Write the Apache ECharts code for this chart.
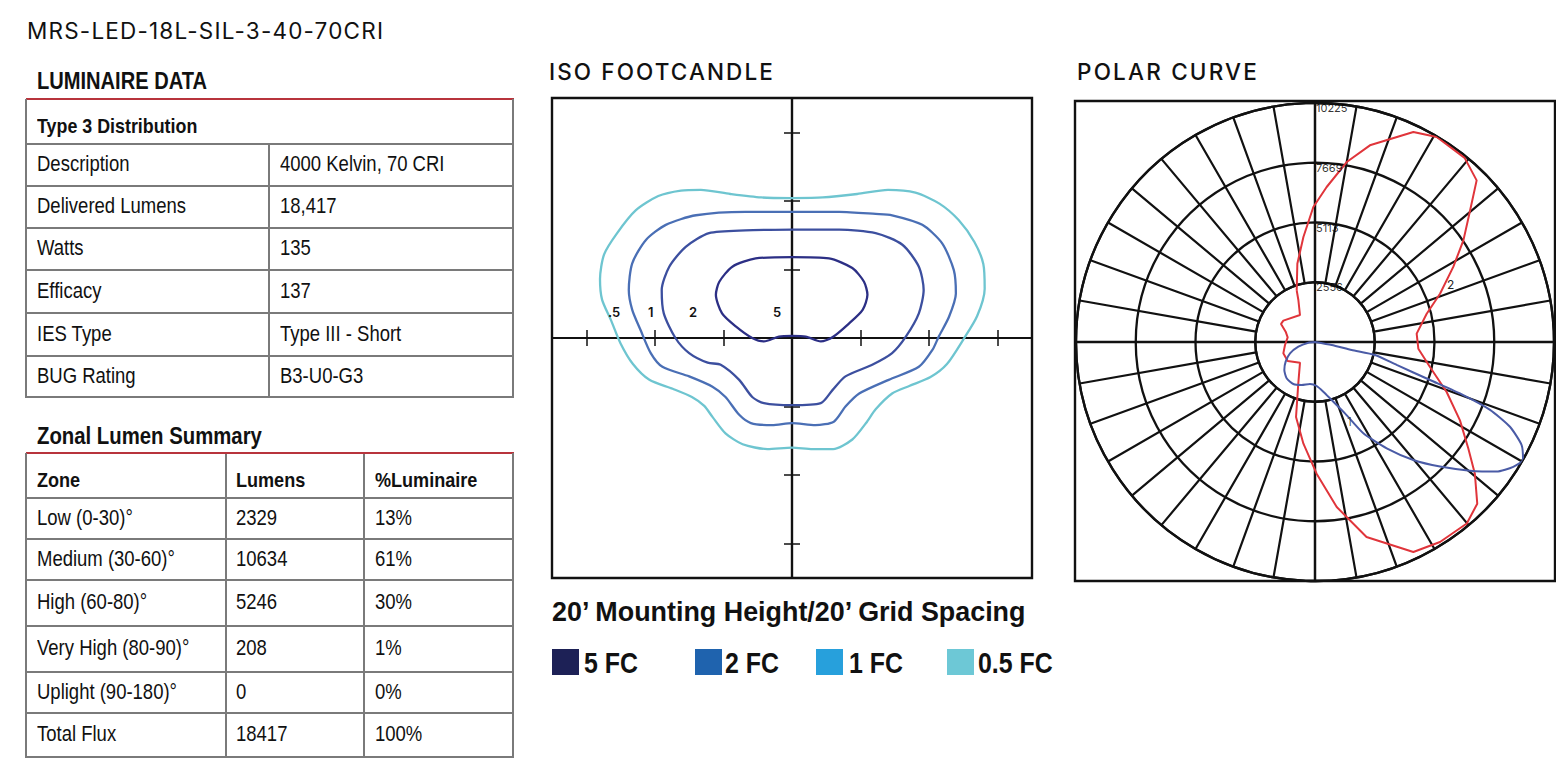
<!DOCTYPE html>
<html><head><meta charset="utf-8">
<script src="https://cdn.jsdelivr.net/npm/echarts@6/dist/echarts.min.js"></script>
<style>
html,body{margin:0;padding:0;background:#fff;}
#page{position:relative;width:1556px;height:761px;overflow:hidden;background:#fff;}
#chart{position:absolute;left:0;top:0;width:1556px;height:761px;}
#overlay{position:absolute;left:0;top:0;width:1556px;height:761px;pointer-events:none;}
.t{position:absolute;white-space:nowrap;line-height:1;color:#111;}
.cond{font-family:"Liberation Sans",Arial,Helvetica,sans-serif;}
.geo{font-family:"Inter","Noto Sans",sans-serif;}
.cell{position:absolute;box-sizing:border-box;display:flex;align-items:center;line-height:1;white-space:nowrap;color:#111;}
.ln{position:absolute;background:#7a7a7a;}
.red{position:absolute;background:#b8343c;}
.sq{position:absolute;}
</style></head>
<body><div id="page"><div id="chart"></div><div id="overlay"></div></div>
<script>
// ---------------- data ----------------
const pageTitle = 'MRS-LED-18L-SIL-3-40-70CRI';
const luminaireHeading = 'LUMINAIRE DATA';
const distributionLabel = 'Type 3 Distribution';
const luminaireFields = ['Description', 'Delivered Lumens', 'Watts', 'Efficacy', 'IES Type', 'BUG Rating'];
const luminaireValues = ['4000 Kelvin, 70 CRI', '18,417', '135', '137', 'Type III - Short', 'B3-U0-G3'];
const zonalHeading = 'Zonal Lumen Summary';
const zonalColumns = ['Zone', 'Lumens', '%Luminaire'];
const zonalZones = ['Low (0-30)°', 'Medium (30-60)°', 'High (60-80)°', 'Very High (80-90)°', 'Uplight (90-180)°', 'Total Flux'];
const zonalLumens = ['2329', '10634', '5246', '208', '0', '18417'];
const zonalPercent = ['13%', '61%', '30%', '1%', '0%', '100%'];

const isoTitle = 'ISO FOOTCANDLE';
const polarTitle = 'POLAR CURVE';
const mountingText = '20\u2019 Mounting Height/20\u2019 Grid Spacing';
const isoLevels = ['5 FC', '2 FC', '1 FC', '0.5 FC'];
const isoLevelTags = ['5', '2', '1', '.5'];
const isoTickValues = [-3, -2, -1, 1, 2, 3];

// iso-footcandle contours, [x, y] in mounting heights
const iso5 = [[0,1.18],[0.54,1.16],[0.88,1.02],[1.05,0.82],[1.10,0.63],[1.03,0.41],[0.83,0.21],[0.59,0.01],[0.42,-0.05],[0.20,0.02],[0,0.03],[-0.19,0.02],[-0.41,-0.05],[-0.58,0.0],[-0.82,0.17],[-1.02,0.36],[-1.11,0.63],[-1.06,0.82],[-0.87,1.04],[-0.53,1.16],[0,1.18]];
const iso2 = [[0,1.58],[0.69,1.58],[1.22,1.53],[1.61,1.36],[1.85,1.04],[1.92,0.70],[1.85,0.36],[1.66,0.02],[1.46,-0.22],[1.17,-0.39],[0.78,-0.56],[0.59,-0.76],[0.42,-0.95],[0,-0.98],[-0.41,-0.95],[-0.58,-0.86],[-0.77,-0.61],[-1.04,-0.39],[-1.23,-0.36],[-1.50,-0.22],[-1.70,0.0],[-1.87,0.36],[-1.90,0.70],[-1.79,1.04],[-1.55,1.33],[-1.21,1.53],[-0.68,1.57],[0,1.58]];
const iso1 = [[0,1.84],[0.69,1.84],[1.22,1.81],[1.46,1.79],[1.90,1.65],[2.19,1.38],[2.36,0.99],[2.39,0.65],[2.29,0.31],[2.14,0.02],[2.05,-0.17],[1.85,-0.42],[1.41,-0.61],[0.98,-0.81],[0.78,-1.00],[0.61,-1.22],[0.34,-1.27],[0,-1.24],[-0.29,-1.27],[-0.60,-1.24],[-0.77,-1.12],[-0.97,-0.86],[-1.16,-0.71],[-1.50,-0.56],[-1.89,-0.42],[-2.06,-0.22],[-2.21,0.12],[-2.33,0.41],[-2.38,0.70],[-2.33,1.09],[-2.13,1.43],[-1.84,1.65],[-1.40,1.79],[-0.68,1.84],[0,1.84]];
const iso05 = [[0,2.04],[0.45,2.05],[0.95,2.10],[1.40,2.16],[1.80,2.12],[2.15,1.96],[2.43,1.72],[2.66,1.40],[2.79,1.08],[2.81,0.72],[2.70,0.32],[2.50,-0.02],[2.26,-0.38],[2.02,-0.57],[1.71,-0.70],[1.46,-0.81],[1.22,-1.04],[1.08,-1.24],[0.88,-1.48],[0.60,-1.62],[0.30,-1.62],[0,-1.60],[-0.36,-1.62],[-0.72,-1.55],[-0.97,-1.39],[-1.16,-1.15],[-1.28,-0.99],[-1.46,-0.86],[-1.74,-0.74],[-2.08,-0.61],[-2.32,-0.38],[-2.50,-0.08],[-2.64,0.26],[-2.77,0.56],[-2.80,0.86],[-2.74,1.22],[-2.55,1.53],[-2.28,1.86],[-1.95,2.07],[-1.62,2.15],[-1.33,2.16],[-0.90,2.10],[-0.45,2.05],[0,2.04]];

// polar curves, [candela, angle in degrees] (0 = nadir, 90 = right, 180 = up)
const curve2 = [[2345,199.5],[1933,201.6],[1322,209.1],[1633,236],[1646,242],[1331,250.6],[1186,260.3],[1290,275.7],[1439,289.7],[1424,304.8],[1092,324],[1907,338],[3310,345.8],[4378,353.5],[5633,0.7],[7120,7.5],[8630,14.8],[9920,25.1],[10089,32.0],[10124,39.9],[9800,45.1],[8864,50.5],[7988,55.2],[7050,61.6],[6025,69.2],[5034,77.7],[4430,86.3],[4364,94.7],[4929,104.2],[5733,111.1],[6731,118.5],[7694,124.4],[8700,130.3],[9780,135],[10150,140.9],[10200,149.3],[9920,154.9],[8736,164.4],[7818,170.0],[6650,175.7],[5776,180.7],[4520,186.3],[3435,192.7],[2345,199.5]];
const curve1 = [[0,90],[724,79.8],[1606,77.7],[2625,77.8],[3629,74.3],[5181,71.7],[6739,70.3],[8032,68.8],[9095,66.5],[9878,63.5],[10225,60.5],[10022,57.8],[9548,54.5],[8617,50.3],[7552,45.1],[6571,39.8],[5486,34.0],[4421,27.9],[3310,22.8],[2581,16.0],[2154,9.5],[1884,2.2],[1810,353.2],[1926,342.8],[2022,332.7],[1971,322],[1777,312.4],[1511,303.8],[1174,294.4],[740,285.6],[287,275.7],[0,270]];
const radiusMax = 10225;
const radiusTickValues = [2556.25, 5112.5, 7668.75, 10225];
const radiusTickLabels = ['2556', '5113', '7669', '10225'];
const curveTags = ['1', '2'];

// ---------------- layout / style ----------------
const ov = document.getElementById('overlay');
function el(cls, style, txt) {
  const d = document.createElement('div');
  d.className = cls;
  Object.assign(d.style, style);
  if (txt !== undefined) d.textContent = txt;
  ov.appendChild(d);
  return d;
}
function text(txt, left, capTop, size, cls, extra, sx) {
  const st = Object.assign({left: left + 'px', top: (capTop - 0.134 * size) + 'px', fontSize: size + 'px'}, extra || {});
  if (sx) { st.transform = 'scaleX(' + sx + ')'; st.transformOrigin = 'left top'; }
  return el('t ' + cls, st, txt);
}
function hline(x0, x1, y, w) { el('ln', {left: x0 + 'px', top: (y - w / 2) + 'px', width: (x1 - x0) + 'px', height: w + 'px'}); }
function vline(x, y0, y1, w) { el('ln', {left: (x - w / 2) + 'px', top: y0 + 'px', width: w + 'px', height: (y1 - y0) + 'px'}); }
function cell(txt, x, y0, y1, size, bold, sx) {
  el('cell cond', {left: x + 'px', top: y0 + 'px', height: (y1 - y0) + 'px', fontSize: size + 'px',
    fontWeight: bold ? 'bold' : 'normal', transform: 'scaleX(' + sx + ')', transformOrigin: 'left center'}, txt);
}

text(pageTitle, 27, 23, 22.5, 'geo', {fontWeight: 400, letterSpacing: '1.2px'});

// luminaire table
text(luminaireHeading, 37, 72, 24.5, 'cond', {fontWeight: 'bold'}, 0.82);
const lx0 = 26, lx1 = 513, lcol = 269;
const lRows = [100, 144, 186, 228, 270, 313, 356, 397];
el('red', {left: lx0 + 'px', top: '97.5px', width: (lx1 - lx0 + 1) + 'px', height: '2.4px'});
for (let i = 1; i < lRows.length; i++) hline(lx0, lx1, lRows[i], 1.5);
vline(lx0, 99, 397.7, 1.5); vline(lx1, 99, 397.7, 1.5); vline(lcol, 144, 397, 1.5);
cell(distributionLabel, 37, lRows[0] + 6, lRows[1], 21, true, 0.85);
luminaireFields.forEach((f, i) => {
  cell(f, 37, lRows[i + 1], lRows[i + 2], 21.5, false, 0.86);
  cell(luminaireValues[i], 280, lRows[i + 1], lRows[i + 2], 21.5, false, 0.86);
});

// zonal table
text(zonalHeading, 37, 427, 24.5, 'cond', {fontWeight: 'bold'}, 0.83);
const zRows = [455, 498, 539, 580, 626, 672, 713, 757];
const zCols = [226, 364];
el('red', {left: lx0 + 'px', top: '452px', width: (lx1 - lx0 + 1) + 'px', height: '2.4px'});
for (let i = 1; i < zRows.length; i++) hline(lx0, lx1, zRows[i], 1.5);
vline(lx0, 453, 757.7, 1.5); vline(lx1, 453, 757.7, 1.5);
zCols.forEach(c => vline(c, 454, 757, 1.5));
const zTextX = [37, 236, 375];
zonalColumns.forEach((c, j) => cell(c, zTextX[j], zRows[0] + 6, zRows[1], 21, true, 0.86));
zonalZones.forEach((z, i) => {
  cell(z, zTextX[0], zRows[i + 1], zRows[i + 2], 21.5, false, 0.86);
  cell(zonalLumens[i], zTextX[1], zRows[i + 1], zRows[i + 2], 21.5, false, 0.86);
  cell(zonalPercent[i], zTextX[2], zRows[i + 1], zRows[i + 2], 21.5, false, 0.86);
});

// chart titles
text(isoTitle, 549, 64, 22.5, 'geo', {fontWeight: 500, letterSpacing: '2.1px'});
text(polarTitle, 1077, 64, 22.5, 'geo', {fontWeight: 500, letterSpacing: '2.2px'});

// mounting text + legend
text(mountingText, 552, 602, 28, 'cond', {fontWeight: 'bold'}, 0.96);
const isoColors = ['#2c2f85', '#3c4f9f', '#4a6fb5', '#6ec5d0'];
const legendColors = ['#1d2156', '#1f63ae', '#27a0dc', '#6dc8d6'];
const legendSqX = [552, 695, 816, 947];
const legendTxtX = [584, 725, 849, 978];
isoLevels.forEach((lv, i) => {
  el('sq', {left: legendSqX[i] + 'px', top: '649px', width: '27px', height: '26px', background: legendColors[i]});
  text(lv, legendTxtX[i], 652, 30, 'cond', {fontWeight: 'bold'}, 0.83);
});

// contour tags
const tagX = [773, 689, 648, 608];
isoLevelTags.forEach((t, i) => text(t, tagX[i], 308, 13, 'geo', {fontWeight: 600}));
// polar curve tags
text(curveTags[0], 1347, 418, 12, 'geo', {fontWeight: 300, color: '#333'});
text(curveTags[1], 1447, 281, 12, 'geo', {fontWeight: 400, color: '#222'});

// ---------------- chart ----------------
const chart = echarts.init(document.getElementById('chart'), null, {renderer: 'svg'});
const black = '#111';
const P_CENTER = [1315, 342];
const P_R = 239;
const isoAxisCommon = {
  type: 'value', min: -3.5, max: 3.5,
  axisLine: {onZero: true, lineStyle: {color: black, width: 2.2}},
  axisTick: {show: true, customValues: isoTickValues, length: 8, lineStyle: {color: black, width: 1.5}},
  axisLabel: {show: false}, splitLine: {show: false}
};
const contourSeries = [iso05, iso1, iso2, iso5].map((d, k) => ({
  type: 'line', name: isoLevels[3 - k], xAxisIndex: 0, yAxisIndex: 0,
  data: d, showSymbol: false, symbol: 'none', smooth: 0.25,
  lineStyle: {color: isoColors[3 - k], width: 2.3}, silent: true, z: 3
}));

chart.setOption({
  animation: false,
  grid: {left: 552, top: 98, width: 480, height: 480, show: true, borderColor: black, borderWidth: 2.4, backgroundColor: 'transparent'},
  xAxis: [Object.assign({position: 'bottom'}, isoAxisCommon), Object.assign({position: 'top'}, isoAxisCommon)],
  yAxis: [Object.assign({position: 'left'}, isoAxisCommon), Object.assign({position: 'right'}, isoAxisCommon)],
  polar: [
    {center: P_CENTER, radius: [P_R * radiusTickValues[0] / radiusMax, P_R]},
    {center: P_CENTER, radius: [0, P_R]}
  ],
  angleAxis: [
    {polarIndex: 0, type: 'value', min: 0, max: 360, interval: 10, startAngle: 270, clockwise: false,
      axisLine: {show: true, lineStyle: {color: black, width: 2.3}}, axisTick: {show: false}, axisLabel: {show: false},
      splitLine: {show: true, lineStyle: {color: black, width: 2.2}}},
    {polarIndex: 1, type: 'value', min: 0, max: 360, interval: 90, startAngle: 270, clockwise: false,
      axisLine: {show: false}, axisTick: {show: false}, axisLabel: {show: false},
      splitLine: {show: true, lineStyle: {color: black, width: 2.3}}}
  ],
  radiusAxis: [
    {polarIndex: 0, type: 'value', min: radiusTickValues[0], max: radiusMax, interval: radiusTickValues[0],
      axisLine: {show: false}, axisTick: {show: false}, axisLabel: {show: false},
      splitLine: {show: true, lineStyle: {color: black, width: 2.3}}},
    {polarIndex: 1, type: 'value', min: 0, max: radiusMax,
      axisLine: {show: false}, axisTick: {show: false}, axisLabel: {show: false}, splitLine: {show: false}}
  ],
  graphic: [{type: 'rect', shape: {x: 1075, y: 101, width: 480, height: 480}, style: {fill: 'none', stroke: black, lineWidth: 2.4}, silent: true}],
  series: contourSeries.concat([
    {type: 'line', name: 'curve2', coordinateSystem: 'polar', polarIndex: 1, data: curve2, showSymbol: false, symbol: 'none',
      lineStyle: {color: '#e0353b', width: 2}, silent: true, z: 4},
    {type: 'line', name: 'curve1', coordinateSystem: 'polar', polarIndex: 1, data: curve1, showSymbol: false, symbol: 'none', smooth: 0.2,
      lineStyle: {color: '#4a5ba6', width: 2}, silent: true, z: 4},
    {type: 'scatter', coordinateSystem: 'polar', polarIndex: 1, symbolSize: 0, silent: true, z: 5,
      data: radiusTickValues.map(v => [v, 180]),
      label: {show: true, position: 'right', distance: 1, offset: [0, 5],
        formatter: p => radiusTickLabels[p.dataIndex], fontSize: 11, color: '#000', fontFamily: 'Inter'}}
  ])
});
</script></body></html>
